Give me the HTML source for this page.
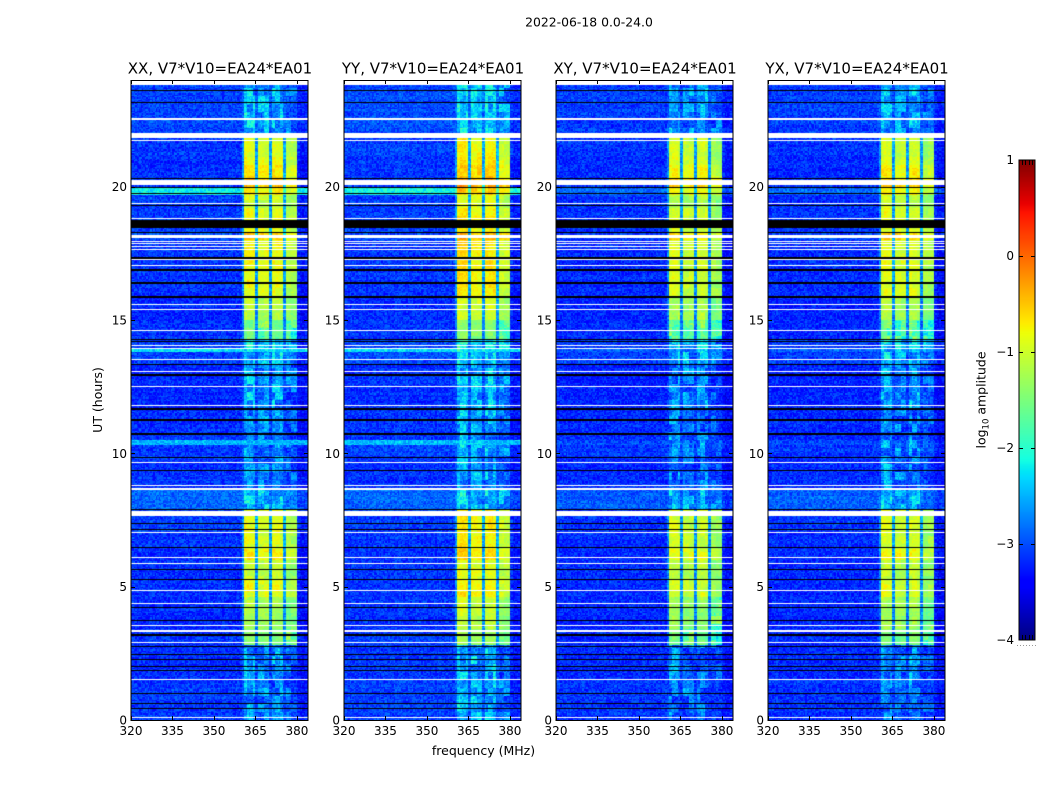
<!DOCTYPE html>
<html lang="en">
<head>
<meta charset="utf-8">
<title>2022-06-18 0.0-24.0</title>
<style>
html,body{margin:0;padding:0;background:#fff;}
#figure{position:relative;width:1050px;height:800px;overflow:hidden;background:#fff;font-family:"DejaVu Sans","Liberation Sans",sans-serif;}
canvas{position:absolute;display:block;}
svg{position:absolute;left:0;top:0;}
text{font-family:"DejaVu Sans","Liberation Sans",sans-serif;fill:#000;}
</style>
</head>
<body>
<div id="figure">
  <canvas id="heat0" width="177" height="640" style="left:131px;top:80px"></canvas>
  <canvas id="heat1" width="177" height="640" style="left:344px;top:80px"></canvas>
  <canvas id="heat2" width="177" height="640" style="left:556px;top:80px"></canvas>
  <canvas id="heat3" width="177" height="640" style="left:768px;top:80px"></canvas>
  <canvas id="cbar" width="16" height="480" style="left:1019px;top:160px"></canvas>
  <svg id="overlay" width="1050" height="800" viewBox="0 0 1050 800">
    <text x="589" y="26.5" text-anchor="middle" font-size="12.4">2022-06-18 0.0-24.0</text>
    <text x="220" y="73.5" text-anchor="middle" font-size="15">XX, V7*V10=EA24*EA01</text>
    <text x="433" y="73.5" text-anchor="middle" font-size="15">YY, V7*V10=EA24*EA01</text>
    <text x="645" y="73.5" text-anchor="middle" font-size="15">XY, V7*V10=EA24*EA01</text>
    <text x="857" y="73.5" text-anchor="middle" font-size="15">YX, V7*V10=EA24*EA01</text>
    <text x="483.5" y="755" text-anchor="middle" font-size="12.5">frequency (MHz)</text>
    <text transform="translate(102,400) rotate(-90)" text-anchor="middle" font-size="12.5">UT (hours)</text>
    <text transform="translate(985.5,400) rotate(-90)" text-anchor="middle" font-size="12.5">log<tspan font-size="8.5" dy="3">10</tspan><tspan dy="-3"> amplitude</tspan></text>
  </svg>
</div>
<script>
/* ---------- axis data ---------- */
var freqTicks = [320, 335, 350, 365, 380];
var timeTicks = [0, 5, 10, 15, 20];
var colorTicks = [1, 0, -1, -2, -3, -4];
var colorTickLabels = ['1', '0', '\u22121', '\u22122', '\u22123', '\u22124'];
var freqStart = 320;
var channelCount = 64;
var rowCount = 240;

/* ---------- time segments: edges in hours, log10 amplitude levels ---------- */
var segmentEdges = [0, 1.5, 2.8, 3.4, 4.0, 4.6, 5.3, 6.0, 6.4, 7.0, 7.9, 8.7, 9.8, 10.15, 10.45, 11.7, 13.3, 13.95, 14.3, 15, 15.9, 17, 18, 18.35, 19.2, 19.75, 19.97, 20.3, 20.8, 21.1, 21.9, 23.85];
var backgroundLevels = [-3.1, -3.15, -3.15, -3.2, -3.15, -3.15, -3.15, -3.15, -3.15, -3.1, -2.9, -3.15, -3.1, -3.1, -3.15, -3.2, -3.05, -3.05, -3.15, -3.2, -3.15, -3.15, -3.05, -3.1, -3.1, -3.05, -3.1, -3.15, -3.15, -3.1, -3.05];
var bandLevels = [-2.75, -2.7, -1.45, -1.25, -1.2, -0.9, -1.05, -0.75, -0.95, -0.9, -2.5, -2.75, -2.75, -2.7, -2.75, -2.65, -2.45, -2.25, -1.6, -1.15, -0.9, -0.85, -0.55, -0.9, -1.05, -0.7, -0.45, -0.7, -0.85, -0.95, -2.55];

/* ---------- per-channel band shape (channels 320..383 MHz) ---------- */
var bandWeights = [0,0,0,0,0,0,0,0,0,0,0,0,0,0,0,0,0,0,0,0,0,0,0,0,0,0,0,0,0,0,0,0,0,0,0,0,0,0,0,0,0.2,1,1,1,1,0.25,1,1,1,1,0.25,1,1,1,1,0.25,1,1,1,1,0.04,0,0,0];
var channelOffsets = [0,0,0,0,0,0,0,0,0,0,0,0,0,0,0,0,0,0,0,0,0,0,0,0,0,0,0,0,0,0,0,0,0,0,0,0,0,0,0,0,0.05,0.06,0.08,0.05,0.03,0,-0.04,-0.06,-0.06,-0.04,0,0.02,0.03,0.03,0,0,-0.25,-0.28,-0.28,-0.3,0,0,0,0];
var channelBackgroundOffsets = [0,0,0,0,0,0,0,0,0,0,0,0,0,0,0,0,0,0,0,0,0,0,0,0,0,0,0,0,0,0,0,0,0,0,0,0,0,0,0,0,0,0,0,0,0,0,0,0,0,0,0,0,0,0,0,0,0,0,0,0,-0.15,-0.2,-0.2,-0.15];

/* ---------- per-panel gains: XX, YY, XY, YX ---------- */
var panelBandOffsets = [0, 0.15, -0.12, -0.06];
var panelBackgroundOffsets = [0, 0.03, -0.03, -0.03];
var rfiPanelWeights = [1, 1, 0.2, 0.2];

/* ---------- broadband interference rows ---------- */
var rfiStartHours = [10.35, 13.76, 19.75];
var rfiEndHours = [10.5, 13.95, 19.97];
var rfiLevels = [-2.45, -2.3, -2.15];

/* ---------- flagged rows: hour centre and width ---------- */
var whiteFlagHours = [22.54,21.91,21.74,20.16,19.38,18.81,18.13,17.96,17.87,17.75,17.65,17.25,17.03,15.59,15.38,14.61,14.06,13.94,13.5,13.06,12.5,11.8,9.66,8.81,8.65,7.73,7.02,6.1,5.88,4.86,4.38,3.55,3.35,2.9,1.53,0.1];
var whiteFlagWidths = [0.075,0.19,0.05,0.19,0.04,0.04,0.11,0.04,0.05,0.04,0.04,0.04,0.04,0.04,0.04,0.04,0.04,0.04,0.04,0.04,0.04,0.04,0.04,0.04,0.07,0.19,0.04,0.04,0.04,0.04,0.04,0.04,0.07,0.04,0.04,0.04];
var blackFlagHours = [23.6,23.15,20.29,19.97,19.75,19.31,18.6,18.27,17.33,16.88,16.38,15.87,14.28,14.19,13.34,12.94,11.67,11.25,10.75,9.85,9.34,7.91,7.35,7.13,6.46,5.63,5.25,4.23,3.72,3.2,2.75,2.44,2.25,2.0,1.85,1.0,0.6,0.44];
var blackFlagWidths = [0.04,0.04,0.04,0.04,0.04,0.04,0.3,0.04,0.06,0.06,0.06,0.06,0.04,0.04,0.04,0.08,0.08,0.06,0.06,0.04,0.04,0.04,0.04,0.04,0.04,0.04,0.04,0.04,0.04,0.08,0.04,0.04,0.04,0.04,0.04,0.04,0.04,0.04];

/* ---------- fine-grain speckle residuals (approximate texture, not per-cell readings) ---------- */
var speckleResiduals = [0.12,-0.31,0.05,0.44,-0.18,-0.07,0.26,-0.39,0.02,0.33,-0.22,0.15,-0.45,0.09,0.38,-0.12,-0.28,0.21,0.01,-0.35,0.47,-0.05,0.17,-0.25,0.3,-0.41,0.08,-0.15,0.24,0.36,-0.33,-0.02,0.11,-0.2,0.42,-0.37,0.06,0.19,-0.1,-0.43,0.28,0.03,-0.26,0.35,-0.16,0.13,-0.3,0.4,-0.08,0.22,-0.46,0.16,-0.03,0.31,-0.23,0.07,0.45,-0.34,-0.11,0.2,0.04,-0.38,0.27,-0.19,0.1,0.37,-0.29,-0.06,0.25,-0.42,0.14,0.32,-0.14,-0.24,0.5,-0.36,0,0.18,-0.09,0.29,-0.32,0.43,-0.17,-0.04,0.23,-0.27,0.34,-0.13,0.06,-0.4,0.39,-0.21,0.1,0.02,-0.01,0.26,-0.3];

/* ---------- layout and axis functions ---------- */
var panelLeft = [131, 344, 556, 768];
var panelWidth = 177;
var plotTop = 80;
var plotBottom = 720;
var hourMax = 24;
var freqSpan = 64;
var colorMin = -4;
var colorMax = 1;
var cbarLeft = 1019, cbarRight = 1035, cbarTop = 160, cbarBottom = 640;
var subCells = 2;
var speckleScale = 0.6;
var stripeScale = 0.12;
var blotchScale = 0.8;

function xScale(mhz, panel) { return panelLeft[panel] + (mhz - freqStart) / freqSpan * panelWidth; }
function yScale(hour) { return plotBottom - hour / hourMax * (plotBottom - plotTop); }
function cbarY(v) { return cbarBottom - (v - colorMin) / (colorMax - colorMin) * (cbarBottom - cbarTop); }

function ramp(t, pts) {
  for (var i = 1; i < pts.length; i++) {
    if (t <= pts[i][0]) {
      var a = pts[i - 1], b = pts[i];
      return a[1] + (b[1] - a[1]) * (t - a[0]) / (b[0] - a[0]);
    }
  }
  return pts[pts.length - 1][1];
}
var jetR = [[0,0],[0.35,0],[0.66,1],[0.89,1],[1,0.5]];
var jetG = [[0,0],[0.125,0],[0.375,1],[0.64,1],[0.91,0],[1,0]];
var jetB = [[0,0.5],[0.11,1],[0.34,1],[0.65,0],[1,0]];
function jet(v) {
  var t = Math.max(0, Math.min(1, (v - colorMin) / (colorMax - colorMin)));
  return 'rgb(' + Math.round(ramp(t, jetR) * 255) + ',' + Math.round(ramp(t, jetG) * 255) + ',' + Math.round(ramp(t, jetB) * 255) + ')';
}

function segmentIndex(hour) {
  for (var i = 0; i < backgroundLevels.length; i++) {
    if (hour >= segmentEdges[i] && hour < segmentEdges[i + 1]) return i;
  }
  return -1;
}

function cellValue(panel, row, ch, subRow, subCh) {
  var hour = (row + 0.5) * hourMax / rowCount;
  var seg = segmentIndex(hour);
  if (seg < 0) return null;
  var bg = backgroundLevels[seg] + panelBackgroundOffsets[panel] + channelBackgroundOffsets[ch];
  for (var r = 0; r < rfiLevels.length; r++) {
    if (hour >= rfiStartHours[r] && hour < rfiEndHours[r]) {
      bg = bg + (rfiLevels[r] - bg) * rfiPanelWeights[panel];
    }
  }
  var n = speckleResiduals.length;
  var rowBlock = Math.floor(row / 3);
  var chBlock = Math.floor(ch / 2);
  var blotch = speckleResiduals[(rowBlock * rowBlock * 7 + chBlock * chBlock * 3 + rowBlock * chBlock + panel * 2) % n];
  var band = bandLevels[seg] + panelBandOffsets[panel] + channelOffsets[ch];
  var w = bandWeights[ch];
  var faint = band < -1.6;
  band += blotch * blotchScale * (faint ? 1 : 0.35);
  var v = bg + (Math.max(band, bg) - bg) * w;
  var c = ch * subCells + subCh;
  var q = row * subCells + subRow;
  var s = speckleResiduals[(c * c * 3 + q * q * 5 + c * 11 + q * 7 + c * q + panel * 29) % n];
  var stripe = speckleResiduals[(row * row * 3 + row * 17 + panel * 5) % n];
  var quiet = (w > 0.5 && !faint) ? 0.5 : 1;
  return v + (s * speckleScale + stripe * stripeScale) * quiet;
}

function drawHeatmap(panel) {
  var ctx = document.getElementById('heat' + panel).getContext('2d');
  var left = panelLeft[panel];
  for (var row = 0; row < rowCount; row++) {
    for (var subRow = 0; subRow < subCells; subRow++) {
      var rowA = (row + (subRow + 1) / subCells) * hourMax / rowCount;
      var rowB = (row + subRow / subCells) * hourMax / rowCount;
      var yA = Math.round(yScale(rowA) - plotTop);
      var yB = Math.round(yScale(rowB) - plotTop);
      for (var ch = 0; ch < channelCount; ch++) {
        for (var subCh = 0; subCh < subCells; subCh++) {
          var v = cellValue(panel, row, ch, subRow, subCh);
          if (v === null) continue;
          var xA = Math.round(xScale(freqStart + ch + subCh / subCells, panel) - left);
          var xB = Math.round(xScale(freqStart + ch + (subCh + 1) / subCells, panel) - left);
          ctx.fillStyle = jet(v);
          ctx.fillRect(xA, yA, xB - xA, yB - yA);
        }
      }
    }
  }
  drawFlags(ctx, whiteFlagHours, whiteFlagWidths, '#fff');
  drawFlags(ctx, blackFlagHours, blackFlagWidths, '#000');
}

function drawFlags(ctx, hours, widths, color) {
  ctx.fillStyle = color;
  for (var i = 0; i < hours.length; i++) {
    var top = yScale(hours[i] + widths[i] / 2) - plotTop;
    var h = Math.max(1, Math.round(widths[i] / hourMax * (plotBottom - plotTop)));
    ctx.fillRect(0, Math.round(top), panelWidth, h);
  }
}

function drawColorbar() {
  var ctx = document.getElementById('cbar').getContext('2d');
  var h = cbarBottom - cbarTop;
  for (var i = 0; i < h; i++) {
    var v = colorMax - (i + 0.5) / h * (colorMax - colorMin);
    ctx.fillStyle = jet(v);
    ctx.fillRect(0, i, cbarRight - cbarLeft, 1);
  }
}

/* ---------- svg helpers ---------- */
var NS = 'http://www.w3.org/2000/svg';
var overlay = document.getElementById('overlay');

function addLine(x1, y1, x2, y2, name) {
  var el = document.createElementNS(NS, 'line');
  el.setAttribute('x1', x1);
  el.setAttribute('y1', y1);
  el.setAttribute('x2', x2);
  el.setAttribute('y2', y2);
  el.setAttribute('stroke', '#000');
  el.setAttribute('stroke-width', '1');
  
  
  overlay.appendChild(el);
}

function addLabel(x, y, anchor, str, name) {
  var el = document.createElementNS(NS, 'text');
  el.setAttribute('x', x);
  el.setAttribute('y', y);
  el.setAttribute('text-anchor', anchor);
  el.setAttribute('font-size', '12');
  el.textContent = str;
  
  
  overlay.appendChild(el);
}

function addFrame(x, y, w, h, name) {
  var el = document.createElementNS(NS, 'rect');
  el.setAttribute('x', x);
  el.setAttribute('y', y);
  el.setAttribute('width', w);
  el.setAttribute('height', h);
  el.setAttribute('fill', 'none');
  el.setAttribute('stroke', '#000');
  el.setAttribute('stroke-width', '1');
  
  
  overlay.appendChild(el);
}

function drawAxes(panel) {
  var left = panelLeft[panel];
  var right = left + panelWidth;
  addFrame(left, plotTop + 0.5, panelWidth, plotBottom - plotTop, 'panel-frame');
  freqTicks.forEach(function (f) {
    var x = Math.round(xScale(f, panel)) + 0.5;
    addLine(x, plotBottom, x, plotBottom - 4, 'x-tick');
    addLine(x, plotTop, x, plotTop + 4, 'x-tick-top');
    addLabel(xScale(f, panel), plotBottom + 15, 'middle', String(f), 'x-tick-label');
  });
  timeTicks.forEach(function (t) {
    var y = Math.round(yScale(t)) + 0.5;
    addLine(left, y, left + 4, y, 'y-tick');
    addLine(right, y, right - 4, y, 'y-tick-right');
    addLabel(left - 4, yScale(t) + 4.5, 'end', String(t), 'y-tick-label');
  });
}

function drawColorbarAxes() {
  addFrame(cbarLeft, cbarTop, cbarRight - cbarLeft, cbarBottom - cbarTop, 'colorbar-frame');
  colorTicks.forEach(function (v, i) {
    var y = Math.round(cbarY(v)) + 0.5;
    if (i > 0 && i < colorTicks.length - 1) {
      addLine(cbarLeft, y, cbarLeft + 4, y, 'colorbar-tick');
      addLine(cbarRight, y, cbarRight - 4, y, 'colorbar-tick');
    }
    addLabel(cbarLeft - 5, cbarY(v) + 4, 'end', colorTickLabels[i], 'colorbar-tick-label');
  });
  for (var i = 1; i <= 4; i++) {
    var x = Math.round(cbarLeft + i * (cbarRight - cbarLeft) / 5) + 0.5;
    addLine(x, cbarTop, x, cbarTop + 5, 'colorbar-cap-tick');
    addLine(x, cbarBottom, x, cbarBottom - 5, 'colorbar-cap-tick');
  }
  for (var d = 0; d < 7; d++) {
    var dot = document.createElementNS(NS, 'rect');
    dot.setAttribute('x', cbarLeft - 2 + d * 3);
    dot.setAttribute('y', 645);
    dot.setAttribute('width', 1);
    dot.setAttribute('height', 1);
    dot.setAttribute('fill', '#999');
    
    
    overlay.appendChild(dot);
  }
}

for (var p = 0; p < panelLeft.length; p++) {
  drawHeatmap(p);
  drawAxes(p);
}
drawColorbar();
drawColorbarAxes();
</script>
</body>
</html>
